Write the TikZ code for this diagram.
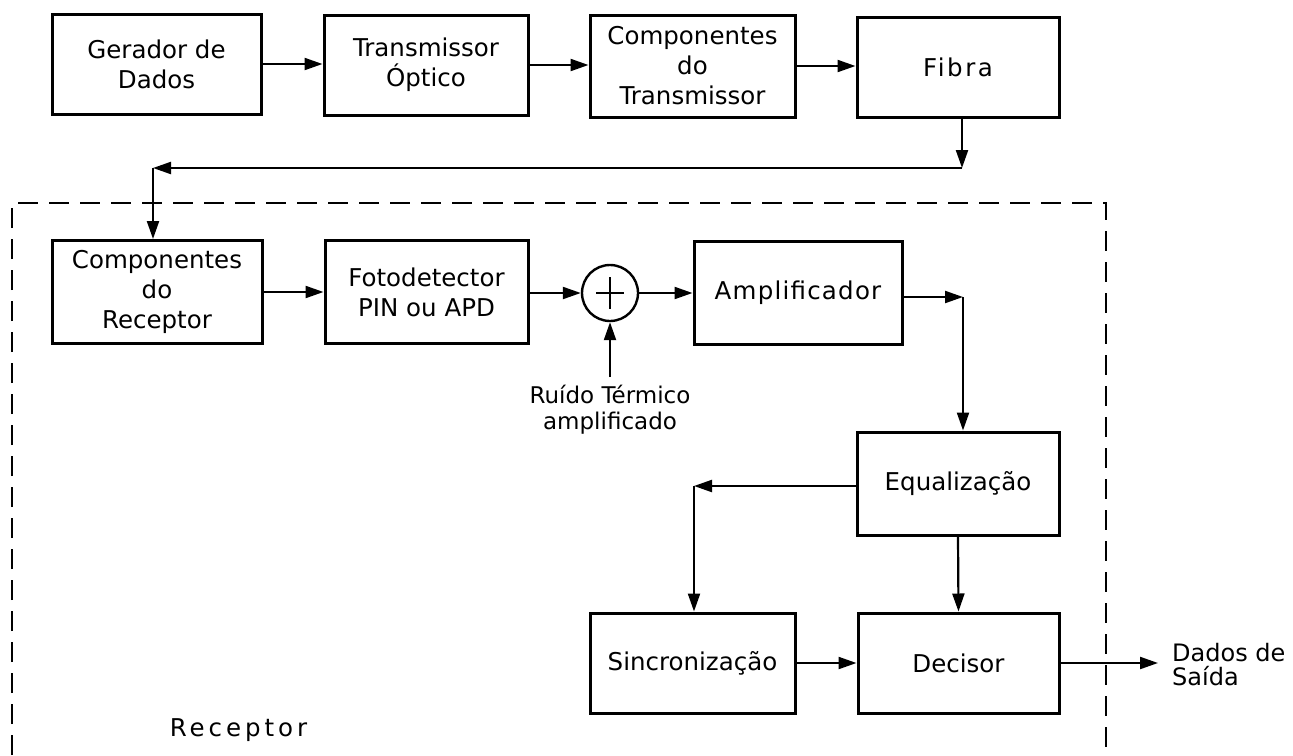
\documentclass[tikz,border=0pt]{standalone}
\usepackage{fontspec}
\setmainfont{DejaVu Sans}
\usetikzlibrary{arrows.meta}
\begin{document}
\begin{tikzpicture}[x=1pt,y=-1pt,
  blk/.style n args={2}{draw, line width=3pt, rectangle, inner sep=0pt,
    minimum width=#1, minimum height=#2, align=center,
    font=\fontsize{24.5}{30}\selectfont},
  arr/.style={line width=2.2pt, -{Triangle[length=18pt,width=12pt]}},
  dbox/.style={line width=2.8pt, dash pattern=on 20pt off 11pt},
  lbl/.style={inner sep=0pt}]
\useasboundingbox (0,0) rectangle (1293,755);
% top row
\node[blk={209pt}{100pt}] (gen) at (156.5,64) {Gerador de\\Dados};
\node[blk={204pt}{100pt}] (tx) at (426,65) {Transmissor\\Óptico};
\node[blk={205pt}{102pt}] (ctx) at (692.5,66) {Componentes\\do\\Transmissor};
\node[blk={202pt}{100pt}, font=\fontsize{24.5}{30}\selectfont\addfontfeature{LetterSpace=10}] (fib) at (958,67) {Fibra};
% receiver
\node[blk={210pt}{103pt}] (crx) at (157,292) {Componentes\\do\\Receptor};
\node[blk={203pt}{103pt}] (pd) at (426.5,292) {Fotodetector\\PIN ou APD};
\node[draw, circle, line width=2.4pt, minimum size=56pt, inner sep=0pt] (sum) at (610,293) {};
\draw[line width=2.4pt] (sum.center) +(-14,0) -- +(14,0);
\draw[line width=2.4pt] (sum.center) +(0,-16) -- +(0,16);
\node[blk={208pt}{103pt}, font=\fontsize{24.5}{30}\selectfont\addfontfeature{LetterSpace=5}] (amp) at (798,293) {Amplificador};
\node[blk={202pt}{103pt}] (eq) at (958,483.5) {Equalização};
\node[blk={205pt}{100pt}] (sync) at (692.5,663) {Sincronização};
\node[blk={201pt}{100pt}] (dec) at (958.5,663) {Decisor};
\node[lbl, anchor=north, align=center, font=\fontsize{23}{26}\selectfont] (ruido) at (610,385) {Ruído Térmico\\amplificado};
\node[lbl, anchor=west, align=left, font=\fontsize{24}{24}\selectfont] (out) at (1172,665) {Dados de\\Saída};
\node[lbl, font=\fontsize{24.5}{30}\selectfont\addfontfeature{LetterSpace=16}] (rec) at (238.5,730) {Receptor};
% corner coordinates
\coordinate (c1) at (962,168);
\coordinate (c2) at (153,168);
\coordinate (c3) at (963,297);
\coordinate (c4) at (694,486);
\coordinate (o1) at (1158,663);
\coordinate (n1) at (610,377);
% connectors
\draw[arr] (gen.east) -- (gen.east -| tx.west);
\draw[arr] (tx.east) -- (tx.east -| ctx.west);
\draw[arr] (ctx.east) -- (ctx.east -| fib.west);
\draw[arr] (c1 |- fib.south) -- (c1);
\draw[arr] (c1) -- (c2);
\draw[arr] (c2) -- (c2 |- crx.north);
\draw[arr] (crx.east) -- (crx.east -| pd.west);
\draw[arr] (pd.east |- sum.west) -- (sum.west);
\draw[arr] (sum.east) -- (sum.east -| amp.west);
\draw[arr] (n1) -- (sum.south);
\draw[arr] (amp.east |- c3) -- (c3);
\draw[arr] (c3) -- (c3 |- eq.north);
\draw[arr] (eq.west |- c4) -- (c4);
\draw[arr] (c4) -- (c4 |- sync.north);
\draw[arr] (eq.south) -- (dec.north);
\draw[arr] (sync.east) -- (sync.east -| dec.west);
\draw[arr] (dec.east) -- (o1);
% receiver boundary
\draw[dbox] (12,755) -- (12,203) -- (1106,203) -- (1106,755);
\end{tikzpicture}
\end{document}
